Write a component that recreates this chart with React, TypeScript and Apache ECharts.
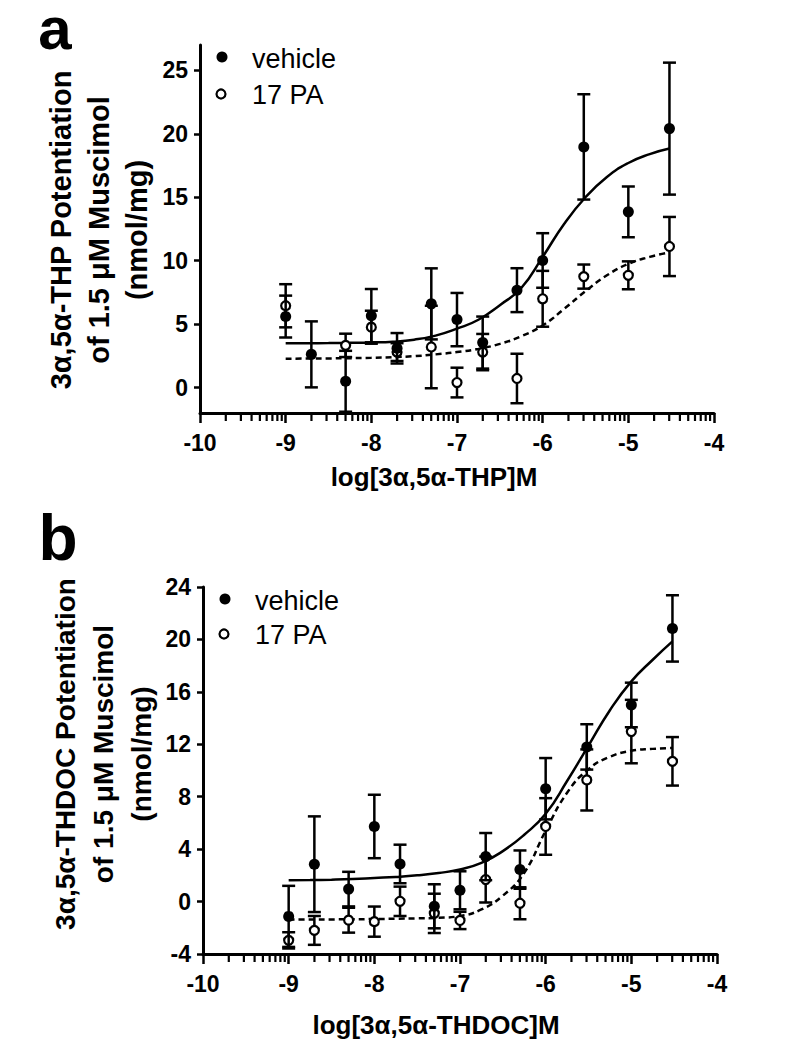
import React, { useEffect, useRef } from 'react';
import * as echarts from 'echarts';

// ---------- data ----------
// log molar concentrations
const doseVehicle = [-9, -8.7, -8.3, -8, -7.7, -7.3, -7, -6.7, -6.3, -6, -5.52, -5, -4.52];
const dosePA_A = [-9, -8.3, -8, -7.7, -7.3, -7, -6.7, -6.3, -6, -5.52, -5, -4.52];
const dosePA_B = [-9, -8.7, -8.3, -8, -7.7, -7.3, -7, -6.7, -6.3, -6, -5.52, -5, -4.52];

// Panel a: 3α,5α-THP
const vehA = [5.6, 2.62, 0.5, 5.67, 3.1, 6.6, 5.36, 3.55, 7.68, 10.02, 18.97, 13.85, 20.41];
const vehA_sem = [1.65, 2.6, 2.4, 2.1, 1.2, 2.8, 2.1, 2.05, 1.73, 2.15, 4.15, 2.0, 5.2];
const paA = [6.45, 3.33, 4.76, 2.8, 3.2, 0.4, 2.8, 0.72, 7.0, 8.75, 8.85, 11.12];
const paA_sem = [1.7, 0.92, 1.3, 0.7, 3.25, 1.17, 1.43, 1.95, 2.2, 0.95, 1.1, 2.33];

// fitted curves
const fitX = [-9, -8.75, -8.5, -8.25, -8, -7.75, -7.5, -7.25, -7, -6.75, -6.5, -6.25, -6, -5.75, -5.5, -5.25, -5, -4.75, -4.52];
const fitA_veh = [3.5, 3.5, 3.51, 3.53, 3.56, 3.62, 3.78, 4.1, 4.65, 5.35, 6.5, 7.85, 10.3, 12.9, 15.0, 16.6, 17.7, 18.4, 18.84];
const fitA_pa = [2.28, 2.29, 2.3, 2.32, 2.35, 2.4, 2.48, 2.62, 2.8, 3.05, 3.45, 4.05, 4.9, 6.2, 7.6, 8.85, 9.75, 10.3, 10.65];

// Panel b: 3α,5α-THDOC
const vehB = [-1.13, 2.85, 0.95, 5.73, 2.87, -0.36, 0.86, 3.43, 2.44, 8.61, 11.8, 15.0, 20.84];
const vehB_sem = [2.33, 3.65, 1.32, 2.42, 1.47, 1.68, 1.45, 1.8, 1.46, 2.34, 1.73, 1.7, 2.53];
const paB = [-2.96, -2.2, -1.42, -1.53, 0.02, -0.9, -1.44, 1.68, -0.13, 5.73, 9.28, 12.97, 10.7];
const paB_sem = [0.62, 1.1, 0.95, 1.15, 1.12, 1.5, 0.66, 1.75, 1.22, 2.16, 2.33, 2.42, 1.85];

const fitB_veh = [1.62, 1.64, 1.67, 1.72, 1.8, 1.88, 2.0, 2.18, 2.45, 2.95, 3.85, 5.1, 6.7, 9.2, 11.9, 14.6, 16.8, 18.45, 19.85];
const fitB_pa = [-1.38, -1.37, -1.36, -1.35, -1.33, -1.31, -1.28, -1.24, -1.1, -0.6, 0.45, 2.2, 5.4, 8.3, 10.1, 11.05, 11.5, 11.65, 11.72];

// axis ticks
const yTicksA = [0, 5, 10, 15, 20, 25];
const decades = [-10, -9, -8, -7, -6, -5];
const minorMultipliers = [2, 3, 4, 5, 6, 7, 8, 9];

const FONT = '"Liberation Sans", Arial, Helvetica, sans-serif';

const minorTicks: number[] = [];
for (const d of decades) {
  for (const m of minorMultipliers) {
    minorTicks.push(d + Math.log(m) / Math.LN10);
  }
}

const AX_MIN = [-2, -4];

function errSeries(xs: number[], means: number[], sems: number[], axis: number, z: number) {
  return {
    type: 'custom',
    xAxisIndex: axis,
    yAxisIndex: axis,
    z,
    silent: true,
    data: xs.map((x, i) => [x, means[i] - sems[i], means[i] + sems[i]]),
    encode: { x: 0, y: [1, 2] },
    renderItem: (params: any, api: any) => {
      const x = api.value(0);
      const top = api.coord([x, api.value(2)]);
      const bot = api.coord([x, api.value(1)]);
      const w = 6.5;
      const st = { stroke: '#000', lineWidth: 2.5 };
      return {
        type: 'group',
        children: [
          { type: 'line', shape: { x1: top[0], y1: top[1], x2: bot[0], y2: bot[1] }, style: st },
          { type: 'line', shape: { x1: top[0] - w, y1: top[1], x2: top[0] + w, y2: top[1] }, style: st },
          { type: 'line', shape: { x1: bot[0] - w, y1: bot[1], x2: bot[0] + w, y2: bot[1] }, style: st },
        ],
      };
    },
  };
}

// minor (log) ticks below the x axis
function minorTickSeries(axis: number) {
  return {
    type: 'custom',
    xAxisIndex: axis,
    yAxisIndex: axis,
    z: 8,
    clip: false,
    data: minorTicks.map((v) => [v, AX_MIN[axis]]),
    encode: { x: 0, y: 1 },
    renderItem: (params: any, api: any) => {
      const p = api.coord([api.value(0), api.value(1)]);
      return {
        type: 'line',
        shape: { x1: p[0], y1: p[1] + 1, x2: p[0], y2: p[1] + 8 },
        style: { stroke: '#000', lineWidth: 2.2 },
      };
    },
  };
}

function fitSeries(ys: number[], axis: number, dashed: boolean) {
  return {
    type: 'line',
    xAxisIndex: axis,
    yAxisIndex: axis,
    z: 1,
    silent: true,
    symbol: 'none',
    smooth: 0.5,
    data: fitX.map((x, i) => [x, ys[i]]),
    lineStyle: { color: '#000', width: 2.5, type: dashed ? [6, 4] : 'solid' },
  };
}

function pointSeries(name: string, xs: number[], ys: number[], axis: number, open: boolean, z: number) {
  return {
    type: 'scatter',
    name,
    xAxisIndex: axis,
    yAxisIndex: axis,
    z,
    symbol: 'circle',
    symbolSize: open ? 9 : 11,
    data: xs.map((x, i) => [x, ys[i]]),
    itemStyle: open
      ? { color: '#fff', borderColor: '#000', borderWidth: 2.2, opacity: 1 }
      : { color: '#000', opacity: 1 },
  };
}

function xAxis(grid: number) {
  return {
    type: 'value',
    gridIndex: grid,
    position: 'bottom',
    min: -10,
    max: -4,
    interval: 1,
    splitLine: { show: false },
    axisLine: { show: true, onZero: false, lineStyle: { color: '#000', width: 3 } },
    axisTick: { show: true, length: 10, lineStyle: { color: '#000', width: 2.5 } },
    axisLabel: { margin: 18, color: '#000', fontFamily: FONT, fontWeight: 'bold', fontSize: 23 },
  };
}

function yAxis(grid: number, min: number, max: number, ticks: number[] | null, interval?: number) {
  const ax: any = {
    type: 'value',
    gridIndex: grid,
    min,
    max,
    splitLine: { show: false },
    axisLine: { show: true, onZero: false, lineStyle: { color: '#000', width: 3 } },
    axisTick: { show: true, length: 6, lineStyle: { color: '#000', width: 2.5 } },
    axisLabel: { margin: 12, color: '#000', fontFamily: FONT, fontWeight: 'bold', fontSize: 23 },
  };
  if (ticks) {
    ax.axisTick.customValues = ticks;
    ax.axisLabel.customValues = ticks;
  }
  if (interval) ax.interval = interval;
  return ax;
}

function legend(x: number, y1: number, y2: number) {
  return [
    { type: 'circle', shape: { cx: x, cy: y1, r: 5.5 }, style: { fill: '#000' } },
    { type: 'circle', shape: { cx: x - 1, cy: y2, r: 4.5 }, style: { fill: '#fff', stroke: '#000', lineWidth: 2.2 } },
    {
      type: 'text', x: x + 30, y: y1 + 2,
      style: { text: 'vehicle', font: `27px ${FONT}`, fill: '#000', align: 'left', verticalAlign: 'middle' },
    },
    {
      type: 'text', x: x + 30, y: y2 + 1,
      style: { text: '17 PA', font: `27px ${FONT}`, fill: '#000', align: 'left', verticalAlign: 'middle' },
    },
  ];
}

function textEl(text: string, x: number, y: number, font: string, rotation = 0, lineHeight?: number) {
  return {
    type: 'text',
    x,
    y,
    rotation,
    style: { text, font, fill: '#000', align: 'center', verticalAlign: 'middle', lineHeight },
  };
}

export default function App() {
  const ref = useRef<HTMLDivElement>(null);
  useEffect(() => {
    document.body.style.margin = '0';
    const chart = echarts.init(ref.current!, undefined, { renderer: 'svg' });
    const option: any = {
      animation: false,
      backgroundColor: '#fff',
      grid: [
        { left: 200, top: 45, width: 514, height: 368 },
        { left: 203, top: 587, width: 514, height: 367 },
      ],
      xAxis: [xAxis(0), xAxis(1)],
      yAxis: [yAxis(0, AX_MIN[0], 27, yTicksA), yAxis(1, AX_MIN[1], 24, null, 4)],
      series: [
        fitSeries(fitA_veh, 0, false),
        fitSeries(fitA_pa, 0, true),
        errSeries(dosePA_A, paA, paA_sem, 0, 2),
        pointSeries('17 PA', dosePA_A, paA, 0, true, 3),
        errSeries(doseVehicle, vehA, vehA_sem, 0, 4),
        pointSeries('vehicle', doseVehicle, vehA, 0, false, 5),

        fitSeries(fitB_veh, 1, false),
        fitSeries(fitB_pa, 1, true),
        errSeries(dosePA_B, paB, paB_sem, 1, 2),
        pointSeries('17 PA', dosePA_B, paB, 1, true, 3),
        errSeries(doseVehicle, vehB, vehB_sem, 1, 4),
        pointSeries('vehicle', doseVehicle, vehB, 1, false, 5),

        minorTickSeries(0),
        minorTickSeries(1),
      ],
      graphic: [
        textEl('a', 55, 28, `bold 60px ${FONT}`, 0, 46),
        textEl('b', 58, 538, `bold 64px ${FONT}`, 0, 50),
        textEl('3α,5α-THP Potentiation\nof 1.5 μM Muscimol\n(nmol/mg)', 99, 230, `bold 29px ${FONT}`, Math.PI / 2, 38),
        textEl('3α,5α-THDOC Potentiation\nof 1.5 μM Muscimol\n(nmol/mg)', 103, 754, `bold 28px ${FONT}`, Math.PI / 2, 38),
        textEl('log[3α,5α-THP]M', 434, 477, `bold 26px ${FONT}`),
        textEl('log[3α,5α-THDOC]M', 436, 1025, `bold 26px ${FONT}`),
        ...legend(222, 57, 94),
        ...legend(225, 599, 634),
      ],
    };
    chart.setOption(option);
    return () => chart.dispose();
  }, []);
  return <div ref={ref} style={{ width: 800, height: 1056 }} />;
}
